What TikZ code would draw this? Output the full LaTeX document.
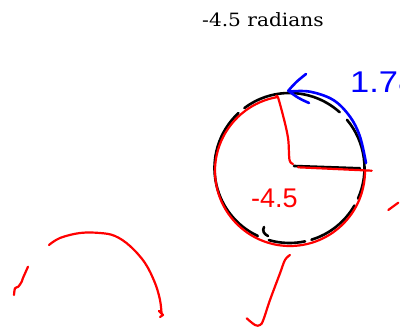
\documentclass[tikz,border=0pt]{standalone}
\usepackage{fontspec}
\newfontfamily\handfont{Liberation Sans}
\newfontfamily\titlefont{DejaVu Serif}
\begin{document}
\begin{tikzpicture}[x=1pt,y=-1pt,
  redpen/.style={draw=red, line width=2.2pt, line cap=round, line join=round},
  blackpen/.style={draw=black, line width=2.6pt, line cap=round, line join=round},
  bluepen/.style={draw=blue, line width=2.6pt, line cap=round, line join=round}]
\useasboundingbox (0,0) rectangle (400,331);
\clip (0,0) rectangle (400,331);
% title
\node[anchor=base west, inner sep=0pt, font=\titlefont\fontsize{18.3}{22}\selectfont] (title) at (202,26.5) {\scalebox{1.1}[1]{-4.5 radians}};
% black circle pieces (y flipped: angles measured clockwise on screen)
\coordinate (bc) at (289.5,168);
\draw[blackpen] (bc) ++(-48:75) arc[start angle=-48, end angle=-127, radius=75];
\draw[blackpen] (bc) ++(-133:75) arc[start angle=-133, end angle=-245, radius=75];
\draw[blackpen] (bc) ++(-254:75) arc[start angle=-254, end angle=-282, radius=75];
\draw[blackpen] (bc) ++(-287:75) arc[start angle=-287, end angle=-330, radius=75];
\draw[blackpen] (bc) ++(-336:75) arc[start angle=-336, end angle=-400, radius=75];
\draw[blackpen] (264,227) .. controls (262,231) and (264,234) .. (268,236);
% black horizontal radius
\draw[blackpen] (294,166) -- (360,168.3);
% red arc (-4.5 rad)
\coordinate (rc) at (290,171);
\draw[redpen] (rc) ++(-100:75) arc[start angle=-100, end angle=-360, radius=75];
% red radii
\draw[redpen] plot[smooth, tension=0.5] coordinates {(293,164) (289.5,160) (288.3,140) (285,123.3) (278.3,98.3) (276,96)};
\draw[redpen] (298,167.3) -- (371.7,170.7);
% blue arc with arrow
\draw[bluepen] plot[smooth, tension=0.6] coordinates {(366,163) (360,136.7) (350,116.7) (333.3,100) (310,91.7) (290,91.5)};
\draw[bluepen] (306,74) .. controls (296,82) .. (288.3,90.7) .. controls (298,98) .. (309,103);
% labels
\node[anchor=base west, inner sep=0pt, text=blue, font=\handfont\fontsize{30}{34}\selectfont] (bluelabel) at (350,93) {\scalebox{1.15}[1]{1.78}};
\node[anchor=base west, inner sep=0pt, text=red, font=\handfont\fontsize{27}{30}\selectfont] (redlabel) at (251,208) {-4.5};
% red strokes elsewhere
\draw[redpen] (388.3,210) -- (398.3,202.7);
\draw[redpen] plot[smooth, tension=0.6] coordinates {(290,255) (285,260) (280,273.3) (270,300) (263.3,320) (260,325) (255,325) (246.7,318.3)};
\draw[redpen] plot[smooth, tension=0.6] coordinates {(49,245) (60,238) (80,233) (100,233) (115,236) (130,246) (145,263) (155,283) (160,300) (161.5,313)};
\draw[redpen] (159,311) -- (163,315) -- (160,317);
\draw[redpen] plot[smooth, tension=0.5] coordinates {(28,266.7) (23,278) (21.7,281.7) (18.3,286.7) (15,288.3) (14,295)};
\end{tikzpicture}
\end{document}
